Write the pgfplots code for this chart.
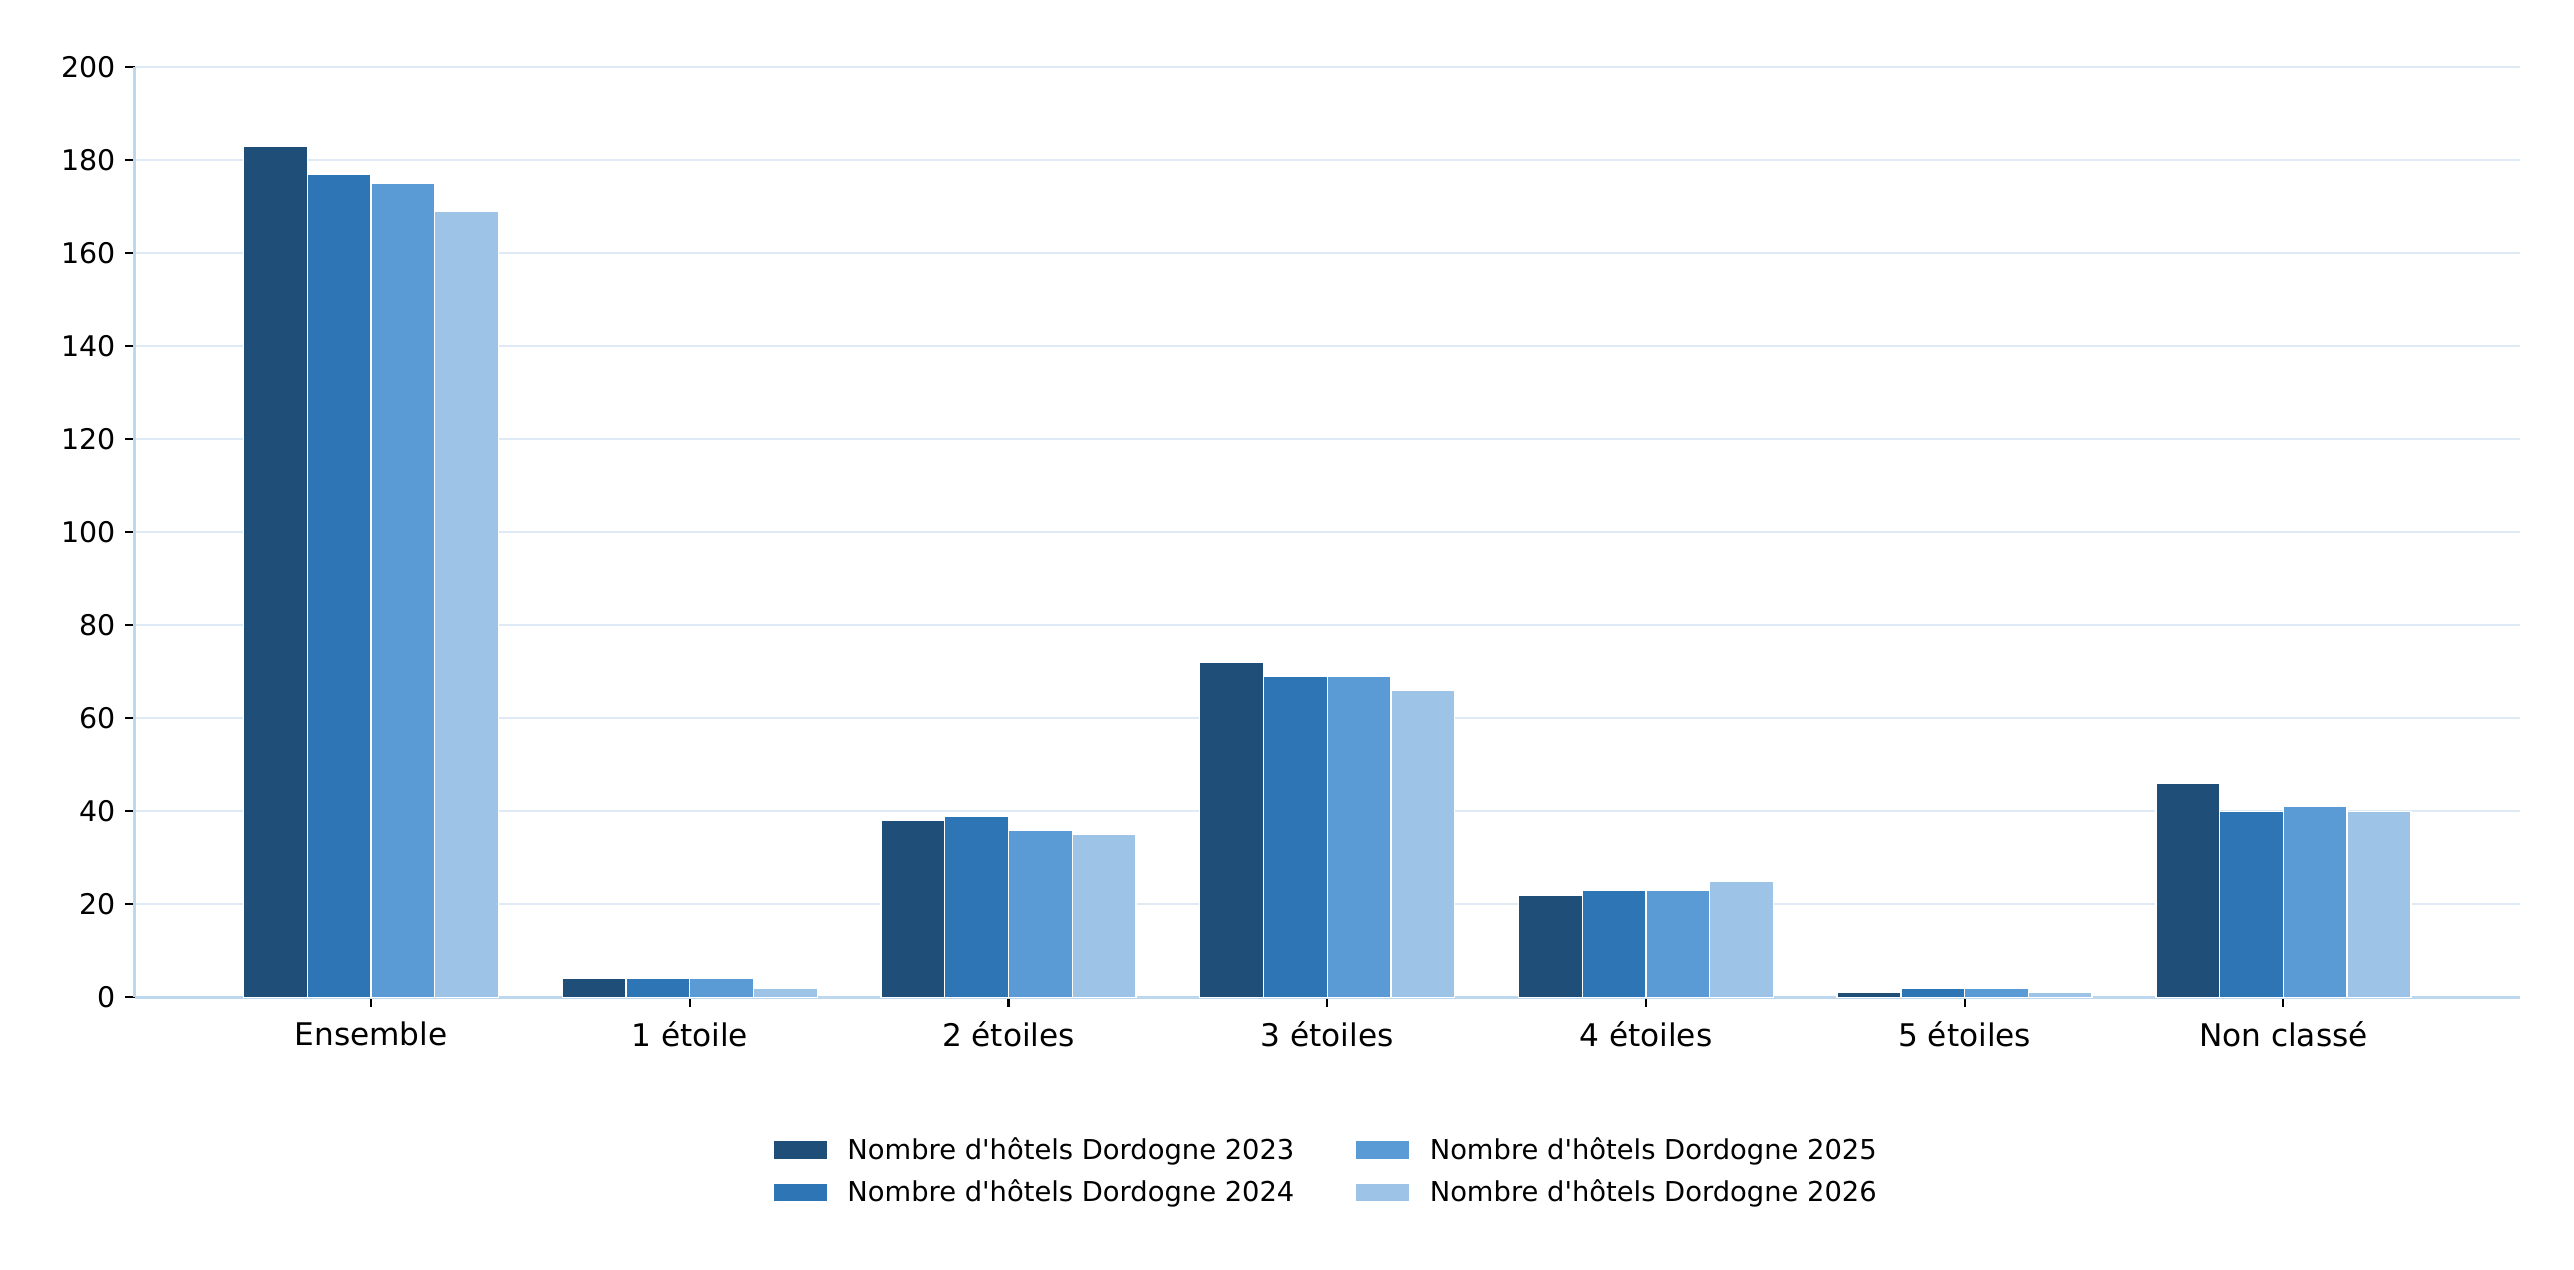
\documentclass[border=0pt]{standalone}
\usepackage{fontspec}
\setmainfont{DejaVu Sans}[Ligatures=TeXOff]
\usepackage{pgfplots}
\pgfplotsset{compat=1.18}
\definecolor{c23}{HTML}{1F4E79}
\definecolor{c24}{HTML}{2E75B6}
\definecolor{c25}{HTML}{5B9BD5}
\definecolor{c26}{HTML}{9DC3E6}
\definecolor{spine}{HTML}{BDD7EE}
\definecolor{gridc}{HTML}{DEEBF7}
\begin{document}
\begin{tikzpicture}
\begin{axis}[
  width=872pt, height=340pt, scale only axis,
  ybar=0pt, bar width=0.2,
  xmin=-0.742, xmax=6.742, ymin=0, ymax=200,
  xtick={0,1,2,3,4,5,6},
  xticklabels={Ensemble,1 étoile,2 étoiles,3 étoiles,4 étoiles,5 étoiles,Non classé},
  ytick={0,20,...,200},
  axis x line*=bottom, axis y line*=left,
  axis line style={color=spine, line width=1pt},
  tick style={color=black, line width=0.8pt},
  tick align=outside, major tick length=3.5pt,
  ymajorgrids, grid style={color=gridc, line width=0.7pt},
  xticklabel style={font=\fontsize{11.4}{13}\selectfont, yshift=-2pt},
  yticklabel style={font=\fontsize{10.4}{12}\selectfont},
  /pgf/number format/assume math mode=true,
  legend columns=2, transpose legend,
  legend style={at={(0.5,-0.138)}, anchor=north, draw=none,
    font=\fontsize{10}{12}\selectfont, row sep=2pt,
    /tikz/every even column/.append style={column sep=20pt}},
  legend image code/.code={\fill[#1] (0pt,-3.5pt) rectangle (20pt,3.5pt); \path (20pt,0pt) -- (25pt,0pt);},
  every axis plot/.append style={draw=white, line width=0.5pt},
]
\addplot[fill=c23] coordinates {(0,183) (1,4) (2,38) (3,72) (4,22) (5,1) (6,46)};
\addplot[fill=c24] coordinates {(0,177) (1,4) (2,39) (3,69) (4,23) (5,2) (6,40)};
\addplot[fill=c25] coordinates {(0,175) (1,4) (2,36) (3,69) (4,23) (5,2) (6,41)};
\addplot[fill=c26] coordinates {(0,169) (1,2) (2,35) (3,66) (4,25) (5,1) (6,40)};
\legend{Nombre d'hôtels Dordogne 2023,Nombre d'hôtels Dordogne 2024,Nombre d'hôtels Dordogne 2025,Nombre d'hôtels Dordogne 2026}
\end{axis}
\path (current axis.south west) ++(-49.2pt,-99.6pt);
\path (current axis.north east) ++(19.8pt,24.6pt);
\end{tikzpicture}
\end{document}
